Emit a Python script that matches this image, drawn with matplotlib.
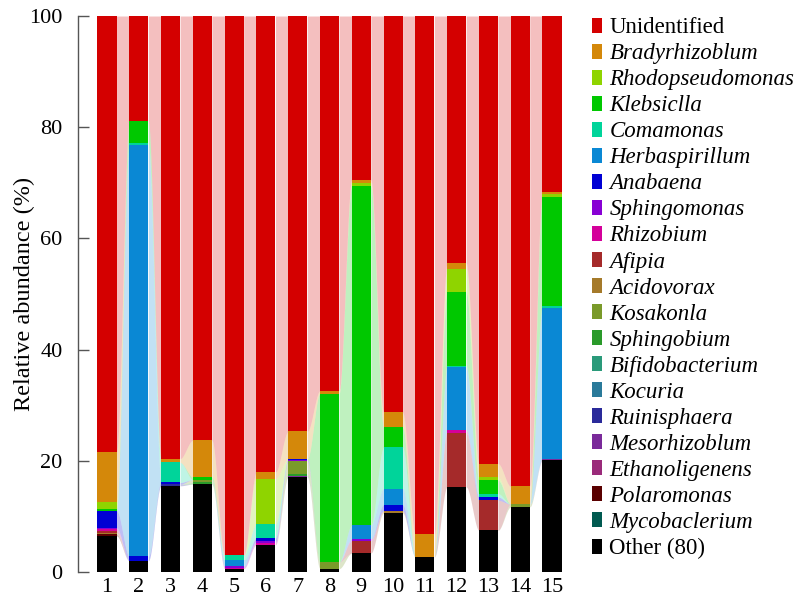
import numpy as np
import matplotlib
matplotlib.use("Agg")
import matplotlib.pyplot as plt
from matplotlib.patches import Patch

plt.rcParams["font.family"] = ["Liberation Serif", "DejaVu Serif"]

samples = [str(i) for i in range(1, 16)]

# relative abundance (%) per sample, stacked bottom -> top
other = [6.5, 2.0, 15.5, 15.8, 0.6, 4.9, 17.1, 0.6, 3.4, 10.6, 2.7, 15.3, 7.5, 11.7, 20.1]
mycobacterium = [0, 0, 0, 0, 0, 0, 0, 0, 0, 0, 0, 0, 0, 0, 0]
polaromonas = [0.3, 0, 0, 0, 0, 0, 0, 0, 0, 0, 0, 0, 0, 0, 0]
ethanoligenens = [0, 0, 0, 0, 0, 0, 0, 0, 0, 0, 0, 0, 0, 0, 0]
mesorhizobium = [0, 0, 0, 0, 0, 0, 0.2, 0, 0, 0, 0, 0, 0, 0, 0.3]
ruinisphaera = [0, 0, 0.3, 0, 0, 0, 0, 0, 0, 0, 0, 0, 0, 0, 0]
kocuria = [0, 0, 0, 0, 0, 0, 0, 0, 0, 0, 0, 0, 0, 0, 0]
bifidobacterium = [0, 0, 0, 0, 0, 0, 0, 0, 0, 0, 0, 0, 0, 0, 0]
sphingobium = [0, 0, 0, 0.3, 0, 0, 0.3, 0, 0, 0, 0, 0, 0, 0, 0]
kosakonia = [0, 0, 0, 0.5, 0, 0, 2.3, 1.2, 0, 0, 0, 0, 0, 0.5, 0]
acidovorax = [0.3, 0, 0, 0, 0, 0, 0, 0, 0, 0.4, 0, 0, 0, 0, 0]
afipia = [0.3, 0, 0, 0, 0, 0, 0, 0, 2.2, 0, 0, 9.7, 5.4, 0, 0]
rhizobium = [0.3, 0, 0, 0, 0.2, 0.3, 0, 0, 0, 0, 0, 0.5, 0, 0, 0]
sphingomonas = [0.3, 0, 0, 0, 0.2, 0.3, 0.2, 0, 0.3, 0, 0, 0, 0, 0, 0]
anabaena = [3.0, 0.8, 0.3, 0, 0, 0.6, 0.2, 0, 0, 1.1, 0, 0, 0.6, 0, 0]
herbaspirillum = [0, 74.0, 0, 0, 1.2, 0, 0, 0, 2.5, 2.9, 0, 11.3, 0, 0, 27.1]
comamonas = [0, 0.3, 3.6, 0, 0.8, 2.5, 0, 0, 0, 7.4, 0, 0.3, 0.6, 0, 0.4]
klebsiella = [0.3, 4.0, 0, 0.5, 0, 0, 0, 30.3, 61.0, 3.6, 0, 13.3, 2.4, 0, 19.5]
rhodopseudomonas = [1.3, 0, 0, 0, 0, 8.2, 0, 0, 0.5, 0, 0, 4.1, 0.6, 0, 0.5]
bradyrhizobium = [9.0, 0, 0.7, 6.6, 0, 1.2, 5.0, 0.5, 0.6, 2.7, 4.1, 1.1, 2.4, 3.2, 0.4]
unidentified = [78.4, 18.9, 79.6, 76.3, 97.0, 82.0, 74.7, 67.4, 29.5, 71.3, 93.2, 44.4, 80.5, 84.6, 31.7]

# (label, values, colour, italic) from bottom of the stack to the top
layers = [
    ("Other (80)", other, "#000000", False),
    ("Mycobaclerium", mycobacterium, "#005a50", True),
    ("Polaromonas", polaromonas, "#5a0000", True),
    ("Ethanoligenens", ethanoligenens, "#9a2a7a", True),
    ("Mesorhizoblum", mesorhizobium, "#7a2a9a", True),
    ("Ruinisphaera", ruinisphaera, "#2a2a9a", True),
    ("Kocuria", kocuria, "#2a7a9a", True),
    ("Bifidobacterium", bifidobacterium, "#2a9a7a", True),
    ("Sphingobium", sphingobium, "#2a9a2a", True),
    ("Kosakonla", kosakonia, "#7a9a2a", True),
    ("Acidovorax", acidovorax, "#a57a2a", True),
    ("Afipia", afipia, "#a52a2a", True),
    ("Rhizobium", rhizobium, "#d4009a", True),
    ("Sphingomonas", sphingomonas, "#8800d4", True),
    ("Anabaena", anabaena, "#0000d4", True),
    ("Herbaspirillum", herbaspirillum, "#0a88d4", True),
    ("Comamonas", comamonas, "#00d49a", True),
    ("Klebsiclla", klebsiella, "#00c800", True),
    ("Rhodopseudomonas", rhodopseudomonas, "#8fd400", True),
    ("Bradyrhizoblum", bradyrhizobium, "#d4880a", True),
    ("Unidentified", unidentified, "#d40000", False),
]

fig = plt.figure(figsize=(7.94, 6.0), dpi=100)
ax = fig.add_axes([78 / 794, 28 / 600, 488.3 / 794, 556 / 600])

x = np.arange(1, 16)
width = 0.6
bottom = np.zeros(len(x))

# smooth s-curve used for the ribbons between neighbouring bars
t = np.linspace(0, 1, 30)
s = t * t * (3 - 2 * t)

for label, vals, color, _ in layers:
    vals = np.asarray(vals, dtype=float)
    top = bottom + vals
    if label != "Other (80)":
        for i in range(len(x) - 1):
            if vals[i] == 0 and vals[i + 1] == 0:
                continue
            xs = np.linspace(x[i] + width / 2, x[i + 1] - width / 2, len(t))
            lo = bottom[i] + (bottom[i + 1] - bottom[i]) * s
            hi = top[i] + (top[i + 1] - top[i]) * s
            ax.fill_between(xs, lo, hi, color=color, alpha=0.25, lw=0, zorder=1)
    ax.bar(x, vals, width, bottom=bottom, color=color, edgecolor="none", zorder=2)
    bottom = top

ax.set_xlim(0.088, 15.45)
ax.set_ylim(0, 100)
ax.set_xticks(x)
ax.set_xticklabels(samples)
ax.set_yticks([0, 20, 40, 60, 80, 100])
ax.tick_params(axis="x", length=0, labelsize=16, pad=4)
ax.tick_params(axis="y", direction="in", length=8, width=1, color="#555555",
               labelsize=16, pad=11)
for name, sp in ax.spines.items():
    sp.set_visible(name == "left")
ax.spines["left"].set_color("#555555")
ax.spines["left"].set_linewidth(1)
ax.set_ylabel("Relative abundance (%)", fontsize=17.5, labelpad=-4)

handles = [Patch(facecolor=c, edgecolor="none") for _, _, c, _ in layers[::-1]]
names = [lab for lab, _, _, _ in layers[::-1]]
leg = fig.legend(handles, names, loc="upper left", bbox_to_anchor=(583 / 794, 1 - 8 / 600),
                 frameon=False, fontsize=16.5, handlelength=0.45, handleheight=0.62,
                 handletextpad=0.3, labelspacing=0.22, borderaxespad=0)
for txt, (_, _, _, italic) in zip(leg.get_texts(), layers[::-1]):
    if italic:
        txt.set_fontstyle("italic")

fig.savefig("out.png", dpi=100)
